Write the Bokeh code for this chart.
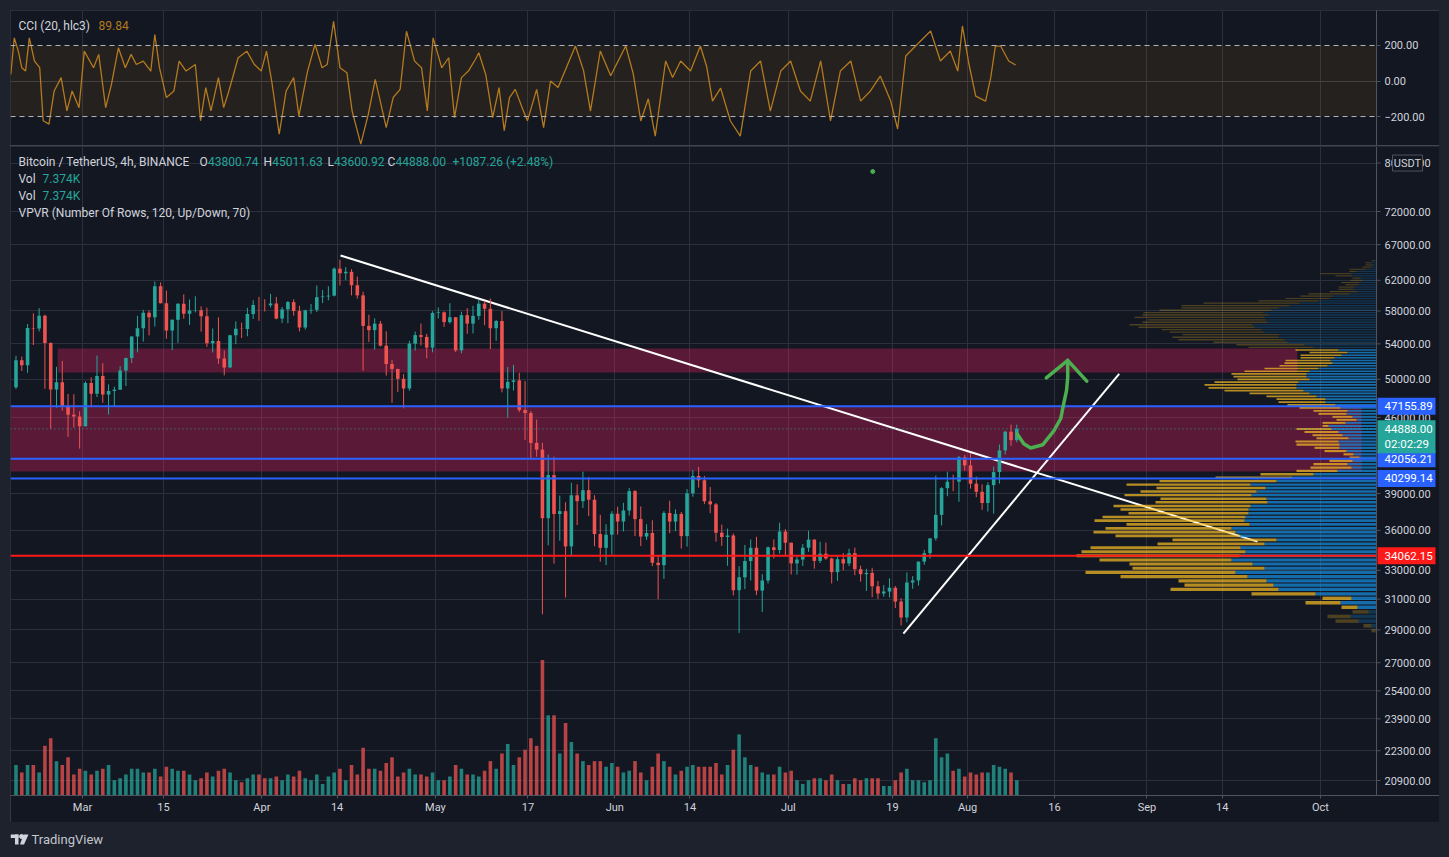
import numpy as np
from bokeh.plotting import figure
from bokeh.layouts import column
from bokeh.models import (Range1d, LinearScale, FixedTicker, Span, Label, BoxAnnotation, Grid)
from bokeh.embed import file_html
from bokeh.resources import INLINE
from bokeh.core.properties import value

# ---------------- data (x axis = days from 2021-03-01) ----------------
first_day = -12          # 2021-02-17
first_open = 49133
closes = [52119, 51552, 55906, 55841, 57408, 54087, 48891, 49676, 47073, 46276, 46106, 45135,
          49587, 48440, 50349, 48374, 48751, 48882, 50971, 52375, 54884, 55851, 57773, 57221, 61188, 58968, 55605, 56900,
          58913, 57665, 58075, 58107, 57351, 54083, 54340, 52303, 51293, 55025, 55817, 55777, 57635, 58746, 58740,
          58720, 58950, 57051, 58203, 59129, 57991, 55953, 58077, 58142, 59769, 59860, 59964, 63588, 62959, 63159,
          61334, 60006, 56150, 55633, 56425, 53787, 51690, 51125, 50047, 49004, 54022, 55033, 54825, 53555, 57750,
          57828, 56610, 57213, 53241, 57473, 56429, 57380, 58928, 58280, 55865, 56750, 49007, 49716, 49880, 46760,
          46456, 43538, 42910, 36964, 40597, 37300, 37536, 34770, 38853, 38356, 39287, 38482, 35716, 34658, 35664, 37326,
          36700, 37589, 39204, 36894, 35520, 35797, 33553, 33380, 37389, 36693, 37313, 35551, 39020, 40516, 40144,
          38349, 38092, 35819, 35483, 35600, 31608, 32509, 33678, 34663, 31584, 32283, 34700, 34494, 35911, 35045,
          33504, 33787, 34669, 35287, 33690, 34220, 33863, 32875, 33815, 33502, 34258, 33086, 32729, 32820, 31880,
          31383, 31520, 31778, 30839, 29790, 32144, 32287, 33634, 34258, 35381, 37237, 39457, 40019, 40016, 42206, 41461,
          39845, 39147, 38207, 39723, 40862, 42836, 44614, 43800, 44888]
highs = [52618, 52530, 56368, 57700, 58352, 57533, 54183, 51374, 52041, 48424, 48394, 46638,
         49790, 50200, 52640, 51773, 49448, 49200, 51450, 52402, 54895, 57387, 58150, 58058, 61844, 61724, 60633, 56938,
         58981, 60129, 59468, 59880, 58592, 58430, 55830, 57200, 53230, 55073, 56700, 56559, 58405, 59368, 59800,
         59490, 60200, 59791, 58500, 59272, 59495, 58650, 58153, 58894, 61300, 60709, 61200, 63777, 64854, 63800,
         63520, 62500, 60499, 57526, 57076, 56757, 55500, 52131, 51166, 50567, 54356, 55460, 56428, 55196, 57963,
         58458, 57945, 58981, 57250, 57911, 58360, 58650, 59500, 59300, 59592, 56888, 58000, 51367, 51588, 50700,
         49800, 46660, 45800, 43546, 42451, 42250, 38829, 38270, 39920, 39791, 40900, 40411, 38856, 37236, 36488, 37534,
         37895, 38225, 39476, 39289, 37925, 36480, 36800, 34068, 37534, 38392, 37680, 37463, 39380, 41064, 41330,
         40527, 39560, 38202, 36457, 36137, 35750, 33298, 34881, 35298, 35500, 32730, 34749, 35297, 36600, 36100,
         35060, 33977, 34945, 35967, 35293, 35118, 35059, 33929, 34100, 34262, 34590, 34679, 33340, 33114, 33185,
         32249, 31955, 32435, 31899, 31063, 32858, 32591, 33650, 34500, 35398, 40550, 39542, 40900, 40640, 42316, 42448,
         42599, 40459, 39780, 39969, 41350, 43392, 44700, 45310, 45300]
lows = [48947, 50901, 50710, 53863, 55477, 48967, 44892, 47003, 46700, 44108, 45000, 43000,
        45115, 47047, 48100, 47500, 46300, 47070, 48882, 49274, 51789, 53005, 54269, 55013, 56078, 58966, 54600, 53271,
        54123, 57023, 56270, 57820, 55450, 53650, 53000, 51700, 50427, 51283, 53966, 54691, 54900, 57000, 56769,
        57935, 58439, 56955, 56500, 56478, 57413, 55473, 55700, 57654, 57873, 59000, 59361, 59870, 61301, 62020,
        60000, 59580, 50931, 54221, 53329, 53695, 50400, 47500, 48650, 46930, 48753, 53222, 53813, 52330, 53013,
        57052, 56035, 56435, 53046, 52900, 55200, 55241, 56900, 56235, 53400, 54370, 48600, 46000, 48805, 46555,
        43825, 42001, 42250, 30000, 34850, 33488, 35200, 31111, 34031, 36416, 37800, 37134, 34779, 33632, 33379, 34153,
        35666, 35920, 37171, 35555, 34800, 35258, 33300, 31000, 32397, 35782, 35936, 34600, 34757, 38730, 39506,
        38116, 37365, 35129, 34803, 33336, 31251, 28805, 31683, 32286, 31275, 30151, 32071, 33862, 34225, 34017,
        32711, 32699, 33316, 34357, 33125, 33532, 33777, 32077, 32261, 33004, 33310, 32658, 32202, 31550, 31133,
        31020, 31165, 31108, 30407, 29278, 29482, 31708, 31924, 33401, 33851, 35205, 36383, 38772, 39200, 38313, 41000,
        39422, 38690, 37642, 37508, 37332, 39853, 42450, 43261, 43600]
volumes = [80, 60, 80, 80, 60, 130, 150, 90, 80, 100, 55, 70,
           65, 55, 65, 70, 80, 40, 45, 55, 70, 70, 60, 60, 70, 50, 75, 70, 65, 65, 55, 40, 45, 60, 50, 65, 70, 60,
           40, 35, 45, 55, 55,
           45, 45, 50, 40, 55, 50, 65, 45, 40, 55, 30, 50, 60, 70, 40, 80, 55, 125, 70, 70, 65, 85, 100, 50, 60,
           70, 55, 55, 50, 60,
           40, 40, 50, 80, 70, 55, 55, 50, 65, 90, 70, 110, 135, 80, 100, 120, 150, 130, 355, 210, 210, 110, 190,
           140, 110, 90, 80, 90, 90, 75, 85,
           75, 60, 65, 90, 60, 40, 75, 110, 90, 75, 55, 65, 75, 80, 75, 75, 75, 85, 55, 80, 120, 160, 100, 80, 75,
           60, 55, 55, 75, 60,
           65, 40, 30, 40, 45, 45, 40, 55, 40, 30, 30, 45, 40, 45, 45, 45, 25, 25, 40, 60, 70, 40, 40, 35, 40, 150,
           100, 110, 65, 70, 50,
           60, 55, 60, 60, 80, 75, 70, 60, 40]

cci_days = [-12.4, -11.8, -11.1, -10.5, -9.85, -9.2, -8.3, -7.4, -6.8, -5.8, -4.9, -3.7, -2.7, -1.8, -0.6, 0.3,
            1.9, 2.8, 4.0, 5.0, 6.2, 7.4, 8.4, 9.3, 10.5, 11.8, 12.5, 13.3, 14.5, 15.8, 16.7, 17.9, 19.5, 20.4,
            21.3, 22.2, 23.5, 24.4, 25.3, 26.9, 28.4, 29.7, 30.9, 31.8, 32.7, 34.0, 35.2, 36.5, 37.4, 38.9, 40.2,
            41.4, 42.3, 43.4, 44.5, 45.7, 46.6, 48.1, 49.4, 50.6, 51.2, 52.5, 53.7, 54.9, 56.0, 57.4, 58.6, 59.6,
            60.6, 62.1, 63.3, 64.3, 65.5, 66.7, 67.9, 68.5, 69.7, 70.9, 72.0, 72.9, 73.8, 74.8, 76.0, 76.9, 78.5,
            79.7, 80.9, 82.2, 85.2, 86.6, 87.8, 89.5, 91.3, 93.9, 95.2, 96.5, 97.8, 99.0, 100.8, 102.0, 103.4,
            105.1, 106.8, 107.9, 108.9, 110.3, 112.0, 113.7, 115.5, 117.2, 118.9, 120.7, 122.4, 124.1, 125.8,
            127.6, 129.3, 131.0, 132.8, 134.5, 136.2, 137.9, 139.7, 140.9, 142.3, 144.0, 146.6, 148.3, 150.0,
            151.3, 152.1, 153.2, 154.4, 156.1, 157.0, 157.8, 158.7, 160.1, 161.3]
cci_vals = [37, 243, 168, 75, 56, 243, 112, 75, -224, -243, -56, 19, -168, -56, -150, 168,
            75, 150, -150, -19, 187, 75, 150, 93, 112, 56, 262, 75, -93, -56, 112, 56, 93, -224,
            -37, -168, 19, -150, -56, 131, 168, 93, 56, 168, 0, -299, -56, 19, -196, 56, 206,
            75, 93, 336, 75, 47, -168, -355, -187, 9, -75, -262, -93, -47, 280, 112, 75, -168,
            243, 75, 131, -206, 19, 56, 121, 159, 37, -206, -37, -280, -93, -47, -150, -224, -47,
            -262, 0, -37, 197, 60, -169, 169, 30, 197, 40, -225, -100, -310, 113, 20, 113,
            56, 197, 80, -113, -40, -225, -310, 56, 113, -169, 56, 113, -56, -113,
            113, -225, 56, 113, -113, -56, 28, -113, -270, 141, 197, 282, 113, 169,
            56, 310, 100, -85, -113, 20, 197, 197, 113, 89.84]

# Volume profile (120 rows, bottom to top): up (blue) and down (orange) volume
vp_row_low = 28805
vp_row_size = 300.4
vp_up = [1, 5, 18, 26, 8, 19, 36, 25, 61, 98, 103, 110, 129, 141, 112, 124, 145, 137, 131, 136,
         112, 100, 137, 141, 145, 127, 132, 131, 128, 128, 126, 109, 110, 125, 120, 111, 126, 100, 84, 63,
         39, 25, 29, 24, 17, 23, 30, 37, 37, 38, 28, 34, 38, 45, 48, 31, 20, 24, 30, 29,
         36, 41, 51, 51, 60, 67, 73, 80, 80, 78, 67, 70, 70, 67, 58, 49, 44, 46, 42, 35,
         29, 38, 63, 72, 89, 92, 98, 97, 112, 115, 122, 124, 109, 111, 112, 108, 113, 105, 98, 87,
         77, 58, 47, 44, 27, 19, 23, 22, 18, 17, 14, 16, 24, 25, 20, 11, 5, 3, 5, 2]
vp_down = [4, 8, 23, 23, 16, 16, 35, 29, 64, 108, 89, 88, 127, 150, 132, 123, 132, 163, 164, 150,
           107, 104, 124, 142, 126, 123, 150, 143, 120, 128, 137, 112, 106, 127, 116, 109, 124, 117, 77, 53,
           41, 41, 34, 23, 10, 10, 22, 25, 43, 43, 32, 30, 34, 35, 6, 23, 20, 20, 28, 34,
           41, 48, 47, 49, 50, 60, 79, 88, 92, 84, 72, 73, 75, 65, 54, 48, 48, 45, 34, 41,
           38, 43, 65, 68, 74, 106, 106, 97, 95, 100, 116, 123, 125, 118, 130, 126, 120, 112, 97, 108,
           96, 60, 44, 32, 41, 28, 15, 16, 13, 18, 12, 8, 17, 31, 7, 16, 9, 8, 6, 3]
va_first_row, va_last_row = 5, 81

blue_levels = [47155.89, 42056.21, 40299.14]
red_level = 34062.15
last_price = 44888.00
countdown = "02:02:29"

zone_left = [-4.3, -12.45]
zone_right = [210.0, 221.1]
zone_low = [50740, 40910]
zone_high = [53460, 47155.89]

trend1_days = [44.6, 203.1]
trend1_price = [65430, 35130]
trend2_days = [141.9, 179.2]
trend2_price = [28760, 50600]

arrow_days = [161.6, 162.7, 163.9, 166.0, 167.9, 169.1, 169.6, 170.1, 170.3, 170.3]
arrow_price = [44380, 43460, 43060, 43370, 44700, 45910, 47400, 48800, 50230, 52090]
arrowhead_days = [166.6, 170.3, 173.6]
arrowhead_price = [50160, 52090, 49790]
dot_day, dot_price = 136.6, 78540

tick_days = [0, 14, 31, 44, 61, 77, 92, 105, 122, 140, 153, 168, 184, 197, 214]
tick_labels = ["Mar", "15", "Apr", "14", "May", "17", "Jun", "14", "Jul", "19", "Aug", "16", "Sep", "14", "Oct"]
price_ticks = [80000, 72000, 67000, 62000, 58000, 54000, 50000, 46000, 42000, 39000, 36000, 33000,
               31000, 29000, 27000, 25400, 23900, 22300, 20900]
cci_ticks = [200, 0, -200]
cci_tick_labels = ["200.00", "0.00", "\u2212200.00"]

# ---------------- style ----------------
BG = "#131722"
PAGE = "#1e222d"
GRID = "#2c303c"
TXT = "#d1d4dc"
AX = "#50535e"
UP = "#26a69a"
DN = "#ef5350"
CCI_C = "#b47a1e"
FONT = "Roboto"
PX_PER_DAY = 5.785
PX = 1.0 / PX_PER_DAY          # one pixel in days
FW = 1366                      # plot-area width
RB = 63                        # price-axis width
X0 = -12.45
X1 = X0 + FW * PX              # right edge of plot area
XR = X0 + (FW + RB) * PX       # right edge incl. price axis
Y0, Y1 = 20230, 82930
LOGPX = 649 / np.log(Y1 / Y0)  # pixels per unit of ln(price)

# ---------------- CCI panel ----------------
c = figure(frame_width=FW, frame_height=135, x_range=Range1d(X0, X1), y_range=Range1d(-363, 397),
           x_axis_location=None, y_axis_location="right", toolbar_location=None,
           output_backend="svg", min_border_left=0, min_border_top=0, min_border_bottom=0,
           min_border_right=RB, background_fill_color=BG, border_fill_color=BG,
           outline_line_color=None)
c.grid.visible = False
c.add_layout(Grid(dimension=0, ticker=FixedTicker(ticks=tick_days), grid_line_color=GRID))
c.add_layout(Grid(dimension=1, ticker=FixedTicker(ticks=[0]), grid_line_color="#363a45"))
c.add_layout(BoxAnnotation(bottom=-200, top=200, fill_color="#ff9800", fill_alpha=0.08,
                           line_alpha=0, level="underlay"))
for lv in (200, -200):
    c.add_layout(Span(location=lv, dimension="width", line_color="#b2b5be",
                      line_dash="5 4", line_width=1))
c.line(cci_days, cci_vals, line_color=CCI_C, line_width=1.3)
ya = c.yaxis[0]
ya.ticker = FixedTicker(ticks=cci_ticks)
ya.major_label_overrides = dict(zip(cci_ticks, cci_tick_labels))
ya.axis_line_color = AX
ya.major_tick_line_color = AX
ya.major_tick_out = 4
ya.major_tick_in = 0
ya.minor_tick_line_color = None
ya.major_label_text_color = TXT
ya.major_label_text_font = FONT
ya.major_label_text_font_size = "11px"
ya.major_label_standoff = 4
c.add_layout(Label(x=8, y=120, x_units="screen", y_units="screen", text="CCI (20, hlc3)",
                   text_color=TXT, text_font=FONT, text_font_size="12px", text_baseline="middle"))
c.add_layout(Label(x=88, y=120, x_units="screen", y_units="screen", text="89.84",
                   text_color=CCI_C, text_font=FONT, text_font_size="12px", text_baseline="middle"))

# ---------------- main panel ----------------
p = figure(frame_width=FW + RB, frame_height=649, x_range=Range1d(X0, XR), y_range=Range1d(Y0, Y1),
           y_axis_type="log", y_axis_location=None, toolbar_location=None,
           output_backend="svg", min_border_left=0, min_border_top=0, min_border_right=0,
           min_border_bottom=27, background_fill_color=BG, border_fill_color=BG,
           outline_line_color=None)
for g in p.ygrid:
    g.visible = False
p.extra_y_ranges = {"vol": Range1d(0, 1700)}
p.extra_y_scales = {"vol": LinearScale()}
p.xgrid.grid_line_color = GRID
p.add_layout(Grid(dimension=1, ticker=FixedTicker(ticks=price_ticks), grid_line_color=GRID))

# price-axis area background (hides the grid there)
p.quad(left=[X1], right=[XR], bottom=[Y0], top=[Y1], fill_color=BG, line_color=None)

n = len(closes)
xs = first_day + np.arange(n) + 0.5
opens = np.array([first_open] + closes[:-1], dtype=float)
cl = np.array(closes, dtype=float)
colors = [UP if cc >= oo else DN for oo, cc in zip(opens, cl)]

# volume
p.vbar(x=xs, top=volumes, bottom=0, width=0.62, y_range_name="vol",
       fill_color=colors, line_color=None, fill_alpha=0.75)

# zones
p.quad(left=zone_left, right=zone_right, bottom=zone_low, top=zone_high,
       fill_color="#e91e63", fill_alpha=0.33, line_color=None)

# trendline 1 (under the profile)
p.line(trend1_days, trend1_price, line_color="white", line_width=2)

# volume profile anchored at the right edge of the plot area
rows = np.arange(len(vp_up))
bot = vp_row_low + rows * vp_row_size
top = bot + vp_row_size
shrink = np.exp(0.55 / LOGPX)
bot2 = bot * shrink
top2 = top / shrink
up_len = np.array(vp_up, dtype=float) * PX
dn_len = np.array(vp_down, dtype=float) * PX
alphas = np.where((rows >= va_first_row) & (rows <= va_last_row), 0.7, 0.25)
p.quad(left=X1 - up_len, right=X1, bottom=bot2, top=top2, fill_color="#1592e6",
       fill_alpha=alphas, line_color=None)
p.quad(left=X1 - up_len - dn_len, right=X1 - up_len, bottom=bot2, top=top2,
       fill_color="#fbc123", fill_alpha=alphas, line_color=None)

# candles
p.segment(x0=xs, y0=lows, x1=xs, y1=highs, line_color=colors, line_width=1)
p.vbar(x=xs, width=0.62, top=np.maximum(opens, cl), bottom=np.minimum(opens, cl),
       fill_color=colors, line_color=None)

# drawings
p.line(trend2_days, trend2_price, line_color="white", line_width=2)
p.segment(x0=[X0] * 3, x1=[X1] * 3, y0=blue_levels, y1=blue_levels, line_color="#2962ff", line_width=2)
p.segment(x0=[X0], x1=[X1], y0=[red_level], y1=[red_level], line_color="#ff1a1a", line_width=2)
p.segment(x0=[X0], x1=[X1], y0=[last_price], y1=[last_price], line_color=UP, line_width=1,
          line_dash="1 3")
p.line(arrow_days, arrow_price, line_color="#4caf50", line_width=3.5, line_cap="round",
       line_join="round")
p.line(arrowhead_days, arrowhead_price, line_color="#4caf50", line_width=3.5, line_cap="round",
       line_join="miter")
p.scatter([dot_day], [dot_price], size=4, color="#4caf50")

# price axis (drawn inside the frame so that the price tags can sit on it)
p.segment(x0=[X1], x1=[X1], y0=[Y0], y1=[Y1], line_color=AX, line_width=1)
p.segment(x0=[X1] * len(price_ticks), x1=[X1 + 4 * PX] * len(price_ticks), y0=price_ticks,
          y1=price_ticks, line_color=AX, line_width=1)
p.text(x=[X1 + 8 * PX] * len(price_ticks), y=price_ticks, text=["%.2f" % t for t in price_ticks],
       text_font=value(FONT), text_font_size="11px", text_color=TXT, text_baseline="middle")

def hpx(price, dpx):
    """price shifted by dpx screen pixels on the log axis"""
    return price * np.exp(dpx / LOGPX)

tag_prices = [blue_levels[0], blue_levels[1], blue_levels[2], red_level]
tag_colors = ["#2962ff", "#2962ff", "#2962ff", "#ff1a1a"]
p.quad(left=[X1 + 1 * PX] * 4, right=[X1 + 59 * PX] * 4,
       bottom=[hpx(v, -8.5) for v in tag_prices], top=[hpx(v, 8.5) for v in tag_prices],
       fill_color=tag_colors, line_color=None)
p.text(x=[X1 + 8 * PX] * 4, y=tag_prices, text=["%.2f" % v for v in tag_prices],
       text_font=value(FONT), text_font_size="11.5px", text_color="white", text_baseline="middle")
p.quad(left=[X1 + 1 * PX], right=[X1 + 59 * PX], bottom=[hpx(last_price, -24.5)],
       top=[hpx(last_price, 8.5)], fill_color=UP, line_color=None)
p.text(x=[X1 + 8 * PX] * 2, y=[last_price, hpx(last_price, -15.5)],
       text=["%.2f" % last_price, countdown], text_font=value(FONT), text_font_size="11.5px",
       text_color="white", text_baseline="middle")
p.quad(left=[X1 + 16 * PX], right=[X1 + 46 * PX], bottom=[hpx(price_ticks[0], -8)],
       top=[hpx(price_ticks[0], 8)], fill_color=BG, line_color=AX, line_width=1)
p.text(x=[X1 + 31 * PX], y=[price_ticks[0]], text=["USDT"], text_font=value(FONT),
       text_font_size="11px", text_color=TXT, text_baseline="middle", text_align="center")

# time axis
xa = p.xaxis[0]
xa.ticker = FixedTicker(ticks=tick_days)
xa.major_label_overrides = {d: s for d, s in zip(tick_days, tick_labels)}
xa.axis_line_color = AX
xa.major_tick_line_color = AX
xa.major_tick_out = 3
xa.major_tick_in = 0
xa.minor_tick_line_color = None
xa.major_label_text_color = TXT
xa.major_label_text_font = FONT
xa.major_label_text_font_size = "11px"
xa.major_label_standoff = 2

# legend texts (screen coords relative to the frame)
def lab(fig, x, y, t, col=TXT, size="12px"):
    fig.add_layout(Label(x=x, y=y, x_units="screen", y_units="screen", text=t, text_color=col,
                         text_font=FONT, text_font_size=size, text_baseline="middle"))

lab(p, 8, 634, "Bitcoin / TetherUS, 4h, BINANCE")
for xl, t, xv, v in [(189, "O", 197.5, "43800.74"), (253, "H", 261.8, "45011.63"),
                     (317, "L", 323.6, "43600.92"), (377, "C", 385, "44888.00")]:
    lab(p, xl, 634, t)
    lab(p, xv, 634, v, UP)
lab(p, 442, 634, "+1087.26 (+2.48%)", UP)
lab(p, 8, 617, "Vol")
lab(p, 32, 617, "7.374K", UP)
lab(p, 8, 600, "Vol")
lab(p, 32, 600, "7.374K", UP)
lab(p, 8, 583, "VPVR (Number Of Rows, 120, Up/Down, 70)")

# ---------------- footer ----------------
f = figure(width=FW + RB, height=35, x_range=Range1d(0, FW + RB), y_range=Range1d(35, 0),
           x_axis_location=None, y_axis_location=None, toolbar_location=None,
           output_backend="svg", min_border=0, background_fill_color=PAGE,
           border_fill_color=PAGE, outline_line_color=None)
f.grid.visible = False
f.quad(left=[0, 4.5], right=[8, 8], top=[12, 12], bottom=[15.5, 22], fill_color="#d1d4dc",
       line_color=None)
f.scatter([11], [14], size=4, color="#d1d4dc")
f.patch([13, 18, 13.5, 9.5], [12, 12, 22, 22], fill_color="#d1d4dc", line_color=None)
f.text(x=[21], y=[17], text=["TradingView"], text_font=value(FONT), text_font_size="13px",
       text_color="#c3c6ce", text_baseline="middle")

top_block = column(c, p, spacing=1, styles={"background-color": "#434651"})
layout = column(top_block, f, spacing=0)

html = file_html(layout, INLINE, title="BTCUSDT 4h")
html = html.replace("</head>", "<style>html,body{margin:0;padding:0;background:#1e222d;}"
                    "body{padding:10px 0 0 10px;box-sizing:border-box;}</style></head>", 1)
open("out.html", "w").write(html)
